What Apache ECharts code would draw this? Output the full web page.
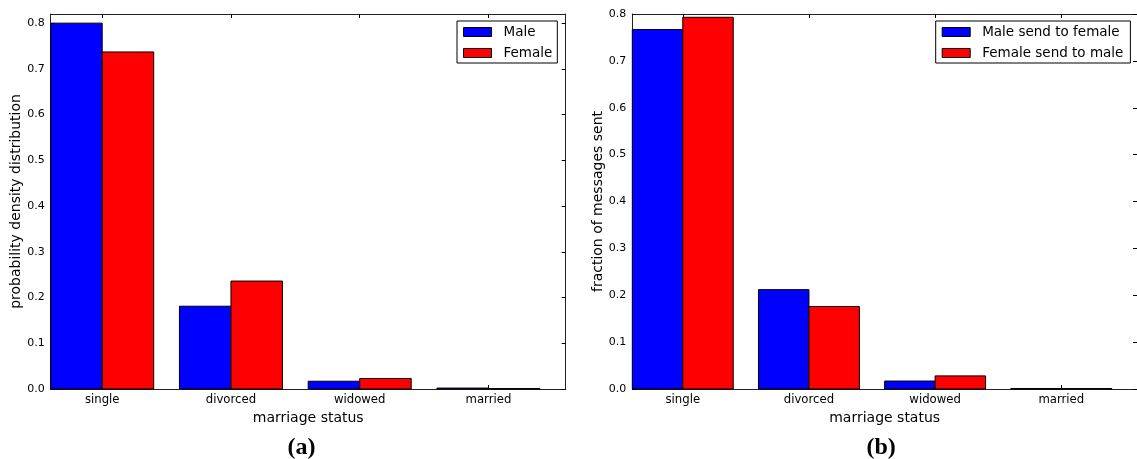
<!DOCTYPE html>
<html>
<head>
<meta charset="utf-8">
<script src="https://cdn.jsdelivr.net/npm/echarts@6/dist/echarts.min.js"></script>
<style>
html,body{margin:0;padding:0;background:#fff;}
#chart{width:1137px;height:459px;}
</style>
</head>
<body>
<div id="chart"></div>
<script>
// ---- data ----
const categories = ['single', 'divorced', 'widowed', 'married'];
const maleA   = [0.800, 0.181, 0.017, 0.002];
const femaleA = [0.737, 0.236, 0.023, 0.001];
const maleB   = [0.767, 0.212, 0.017, 0.001];
const femaleB = [0.793, 0.176, 0.028, 0.001];
const yTickLabels = [0.0, 0.1, 0.2, 0.3, 0.4, 0.5, 0.6, 0.7, 0.8];
const legendA = ['Male', 'Female'];
const legendB = ['Male send to female', 'Female send to male'];
const xTitle = 'marriage status';
const yTitleA = 'probability density distribution';
const yTitleB = 'fraction of messages sent';

// ---- layout / style ----
const FONT = 'DejaVu Sans';
const BAR_W = 0.4;
const X_MAX = categories.length;
const tickPos = categories.map((c, i) => i + BAR_W);
const AXIS_COLOR = '#222';

const chart = echarts.init(document.getElementById('chart'), null, {renderer: 'canvas'});

function xAxisDef(gridIndex, pos, showLabels) {
  return {
    type: 'value', gridIndex, position: pos, min: 0, max: X_MAX,
    name: showLabels ? xTitle : '', nameLocation: 'middle', nameGap: 21,
    nameTextStyle: {fontFamily: FONT, fontSize: 14, color: '#000'},
    axisLine: {show: true, onZero: false, lineStyle: {color: AXIS_COLOR, width: 1}},
    axisTick: {show: true, inside: true, length: 4, customValues: tickPos, lineStyle: {color: '#000'}},
    axisLabel: {show: showLabels, customValues: tickPos, margin: 5, fontFamily: FONT, fontSize: 11.7, color: '#000',
      formatter: v => categories[Math.round(v - BAR_W)] || ''},
    splitLine: {show: false}
  };
}
function yAxisDef(gridIndex, pos, max, showLabels, title, gap) {
  return {
    type: 'value', gridIndex, position: pos, min: 0, max: max,
    name: showLabels ? title : '', nameLocation: 'middle', nameGap: gap, nameRotate: 90,
    nameTextStyle: {fontFamily: FONT, fontSize: 14, color: '#000'},
    axisLine: {show: true, onZero: false, lineStyle: {color: AXIS_COLOR, width: 1}},
    axisTick: {show: true, inside: true, length: 4, customValues: yTickLabels, lineStyle: {color: '#000'}},
    axisLabel: {show: showLabels, customValues: yTickLabels, margin: 6, fontFamily: FONT, fontSize: 11, color: '#000',
      formatter: v => v.toFixed(1)},
    splitLine: {show: false}
  };
}
function barSeries(name, values, color, offset, xi, yi) {
  return {
    type: 'custom', name, xAxisIndex: xi, yAxisIndex: yi,
    itemStyle: {color: color, borderColor: '#000', borderWidth: 1},
    encode: {x: 0, y: 1},
    data: values.map((v, i) => [i, v]),
    renderItem: function (params, api) {
      const i = api.value(0), v = api.value(1);
      const p0 = api.coord([i + offset, v]);
      const p1 = api.coord([i + offset + BAR_W, 0]);
      return {
        type: 'rect',
        shape: {x: p0[0], y: p0[1], width: p1[0] - p0[0], height: p1[1] - p0[1]},
        style: {fill: color, stroke: '#000', lineWidth: 1}
      };
    }
  };
}
function legendDef(names, left, padRight) {
  return {
    data: names, orient: 'vertical', left: left, top: 21,
    icon: 'rect', itemWidth: 28, itemHeight: 9, itemGap: 7,
    padding: [4, padRight, 3, 6],
    borderColor: '#000', borderWidth: 1, borderRadius: 0,
    backgroundColor: '#fff',
    itemStyle: {borderColor: '#000', borderWidth: 1},
    textStyle: {fontFamily: FONT, fontSize: 13.5, color: '#000', padding: [0, 0, 0, 7]},
    selectedMode: false
  };
}

const option = {
  animation: false,
  backgroundColor: '#fff',
  grid: [
    {left: 50.7, top: 14, width: 515, height: 375},
    {left: 632.3, top: 14, width: 513.6, height: 375}
  ],
  xAxis: [
    xAxisDef(0, 'bottom', true), xAxisDef(0, 'top', false),
    xAxisDef(1, 'bottom', true), xAxisDef(1, 'top', false)
  ],
  yAxis: [
    yAxisDef(0, 'left', 0.82, true, yTitleA, 24), yAxisDef(0, 'right', 0.82, false, '', 0),
    yAxisDef(1, 'left', 0.8, true, yTitleB, 26), yAxisDef(1, 'right', 0.8, false, '', 0)
  ],
  legend: [legendDef(legendA, 457, 5), legendDef(legendB, 935.7, 7)],
  series: [
    barSeries(legendA[0], maleA, '#0000ff', 0, 0, 0),
    barSeries(legendA[1], femaleA, '#ff0000', BAR_W, 0, 0),
    barSeries(legendB[0], maleB, '#0000ff', 0, 2, 2),
    barSeries(legendB[1], femaleB, '#ff0000', BAR_W, 2, 2)
  ],
  graphic: [
    {type: 'text', left: 303.5 - 16, top: 436, style: {text: '(a)', fontFamily: 'Liberation Serif', fontWeight: 'bold', fontSize: 24, fill: '#000'}},
    {type: 'text', left: 882.5 - 16, top: 436, style: {text: '(b)', fontFamily: 'Liberation Serif', fontWeight: 'bold', fontSize: 24, fill: '#000'}}
  ]
};
chart.setOption(option);
</script>
</body>
</html>
